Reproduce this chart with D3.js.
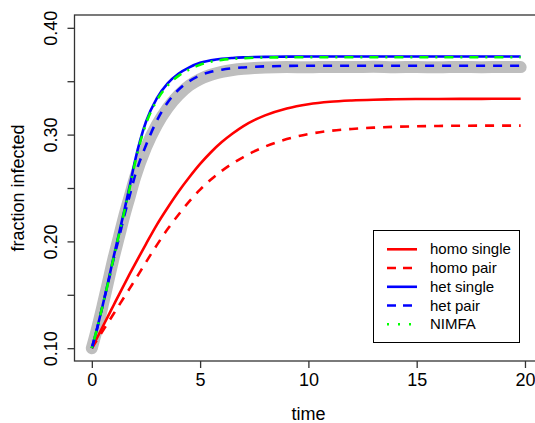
<!DOCTYPE html>
<html>
<head>
<meta charset="utf-8">
<script src="https://cdn.jsdelivr.net/npm/d3@7"></script>
<style>
  html, body { margin: 0; padding: 0; background: #fff; }
  svg { display: block; font-family: "Liberation Sans", Arial, Helvetica, sans-serif; }
</style>
</head>
<body>
<svg id="chart" width="535" height="423"></svg>
<script>
// Epidemic curves: fraction infected over time for several approximations.
const times = [0, 0.25, 0.5, 0.75, 1, 1.25, 1.5, 1.75, 2, 2.5, 3, 3.5, 4, 4.5, 5, 5.5, 6, 6.5, 7, 7.5, 8, 9, 10, 11, 12, 13, 14, 15, 16, 17, 18, 19, 19.8];

const simulation = [0.100, 0.119, 0.140, 0.162, 0.184, 0.204, 0.224, 0.242, 0.260, 0.288, 0.309, 0.325, 0.337, 0.346, 0.3520, 0.3560, 0.3588, 0.3605, 0.3616, 0.3623, 0.3628, 0.3632, 0.3630, 0.3634, 0.3632, 0.3635, 0.3631, 0.3633, 0.3630, 0.3634, 0.3631, 0.3633, 0.3632];
const homoSingle = [0.100, 0.110, 0.120, 0.130, 0.140, 0.150, 0.1598, 0.1695, 0.179, 0.1975, 0.2155, 0.2315, 0.2465, 0.260, 0.2725, 0.2835, 0.293, 0.301, 0.308, 0.3135, 0.318, 0.3245, 0.3285, 0.3308, 0.3320, 0.3327, 0.3331, 0.3333, 0.3334, 0.3335, 0.3335, 0.3336, 0.3336];
const homoPair = [0.100, 0.108, 0.116, 0.124, 0.132, 0.140, 0.148, 0.156, 0.164, 0.1805, 0.1965, 0.2115, 0.2250, 0.2375, 0.2485, 0.2580, 0.2660, 0.2730, 0.2790, 0.2843, 0.2888, 0.2958, 0.3005, 0.3035, 0.3053, 0.3065, 0.3073, 0.3078, 0.3081, 0.3083, 0.3084, 0.3084, 0.3084];
const hetSingle = [0.100, 0.119, 0.140, 0.162, 0.185, 0.207, 0.229, 0.252, 0.276, 0.312, 0.334, 0.348, 0.357, 0.363, 0.3672, 0.3695, 0.3710, 0.3718, 0.3723, 0.3726, 0.3728, 0.3730, 0.3731, 0.3731, 0.3731, 0.3731, 0.3731, 0.3731, 0.3731, 0.3731, 0.3731, 0.3731, 0.3731];
const hetPair = [0.100, 0.119, 0.140, 0.161, 0.183, 0.203, 0.224, 0.243, 0.262, 0.290, 0.313, 0.330, 0.342, 0.350, 0.3555, 0.3588, 0.3608, 0.3621, 0.3629, 0.3635, 0.3639, 0.3643, 0.3645, 0.3645, 0.3645, 0.3645, 0.3645, 0.3645, 0.3645, 0.3645, 0.3645, 0.3645, 0.3645];
const nimfa = [0.100, 0.119, 0.140, 0.161, 0.184, 0.206, 0.228, 0.250, 0.274, 0.310, 0.332, 0.346, 0.355, 0.361, 0.3655, 0.3683, 0.3700, 0.3710, 0.3716, 0.3720, 0.3722, 0.3724, 0.3725, 0.3725, 0.3725, 0.3725, 0.3725, 0.3725, 0.3725, 0.3725, 0.3725, 0.3725, 0.3725];

const xTicks = [0, 5, 10, 15, 20];
const yTicks = [0.10, 0.15, 0.20, 0.25, 0.30, 0.35, 0.40];
const yTickLabels = ["0.10", "", "0.20", "", "0.30", "", "0.40"];

const legendLabels = ["homo single", "homo pair", "het single", "het pair", "NIMFA"];

const svg = d3.select("#chart");

// Plot region (data range padded by 4% on each side)
const x = d3.scaleLinear().domain([-0.8, 20.8]).range([74.5, 542.3]);
const y = d3.scaleLinear().domain([0.088, 0.412]).range([361, 15]);

const seriesDefs = [
  { values: homoSingle, color: "#ff0000", dash: null },
  { values: homoPair, color: "#ff0000", dash: "9,8" },
  { values: hetSingle, color: "#0000ff", dash: null },
  { values: hetPair, color: "#0000ff", dash: "9,8" },
  { values: nimfa, color: "#00ff00", dash: "2,7,9,7", legendDash: "2,9" }
];

const line = d3.line()
  .x(d => x(d[0]))
  .y(d => y(d[1]))
  .curve(d3.curveMonotoneX);

const plot = svg.append("g");

// Stochastic simulation as a wide grey band underneath
plot.append("path")
  .datum(times.map((t, i) => [t, simulation[i]]))
  .attr("d", line)
  .attr("fill", "none")
  .attr("stroke", "#bebebe")
  .attr("stroke-width", 12)
  .attr("stroke-linecap", "round")
  .attr("stroke-linejoin", "round");

seriesDefs.forEach(s => {
  plot.append("path")
    .datum(times.map((t, i) => [t, s.values[i]]))
    .attr("d", line)
    .attr("fill", "none")
    .attr("stroke", s.color)
    .attr("stroke-width", 2.6)
    .attr("stroke-dasharray", s.dash)
    .attr("stroke-linejoin", "round");
});

// Box (right edge falls outside the canvas)
const axisColor = "#333";
svg.append("rect")
  .attr("x", x.range()[0]).attr("y", y.range()[1])
  .attr("width", x.range()[1] - x.range()[0])
  .attr("height", y.range()[0] - y.range()[1])
  .attr("fill", "none")
  .attr("stroke", axisColor)
  .attr("stroke-width", 1.3);

// Bottom axis
const xAxis = svg.append("g")
  .attr("transform", `translate(0,${y.range()[0]})`)
  .call(d3.axisBottom(x).tickValues(xTicks).tickSize(7).tickPadding(5).tickFormat(d3.format("d")));
xAxis.select(".domain").remove();
xAxis.selectAll(".tick line").attr("stroke", axisColor).attr("stroke-width", 1.3);
xAxis.selectAll(".tick text")
  .attr("fill", "#000")
  .attr("font-size", 18)
  .attr("font-family", "Liberation Sans, Arial, sans-serif");

// Left axis with rotated labels
const yAxis = svg.append("g")
  .attr("transform", `translate(${x.range()[0]},0)`)
  .call(d3.axisLeft(y).tickValues(yTicks).tickSize(7).tickFormat((d, i) => yTickLabels[i]));
yAxis.select(".domain").remove();
yAxis.selectAll(".tick line").attr("stroke", axisColor).attr("stroke-width", 1.3);
yAxis.selectAll(".tick text")
  .attr("fill", "#000")
  .attr("font-size", 18)
  .attr("font-family", "Liberation Sans, Arial, sans-serif")
  .attr("x", null).attr("dy", null)
  .attr("text-anchor", "middle")
  .attr("transform", "translate(-18,0) rotate(-90)");

// Axis titles
svg.append("text")
  .attr("x", x(10))
  .attr("y", 420)
  .attr("text-anchor", "middle")
  .attr("font-size", 18)
  .text("time");

svg.append("text")
  .attr("transform", `translate(24,${(y.range()[0] + y.range()[1]) / 2}) rotate(-90)`)
  .attr("text-anchor", "middle")
  .attr("font-size", 18)
  .text("fraction infected");

// Legend
const legend = svg.append("g");
legend.append("rect")
  .attr("x", 373.5).attr("y", 230.5)
  .attr("width", 146).attr("height", 112)
  .attr("fill", "#fff")
  .attr("stroke", "#000")
  .attr("stroke-width", 1);

legendLabels.forEach((lab, i) => {
  const s = seriesDefs[i];
  const ly = 249.3 + i * 18.75;
  legend.append("line")
    .attr("x1", 387).attr("x2", 417)
    .attr("y1", ly).attr("y2", ly)
    .attr("stroke", s.color)
    .attr("stroke-width", 2.6)
    .attr("stroke-dasharray", s.legendDash || (s.dash ? "9,7" : null));
  legend.append("text")
    .attr("x", 430)
    .attr("y", ly + 5)
    .attr("font-size", 15)
    .attr("fill", "#000")
    .text(lab);
});
</script>
</body>
</html>
